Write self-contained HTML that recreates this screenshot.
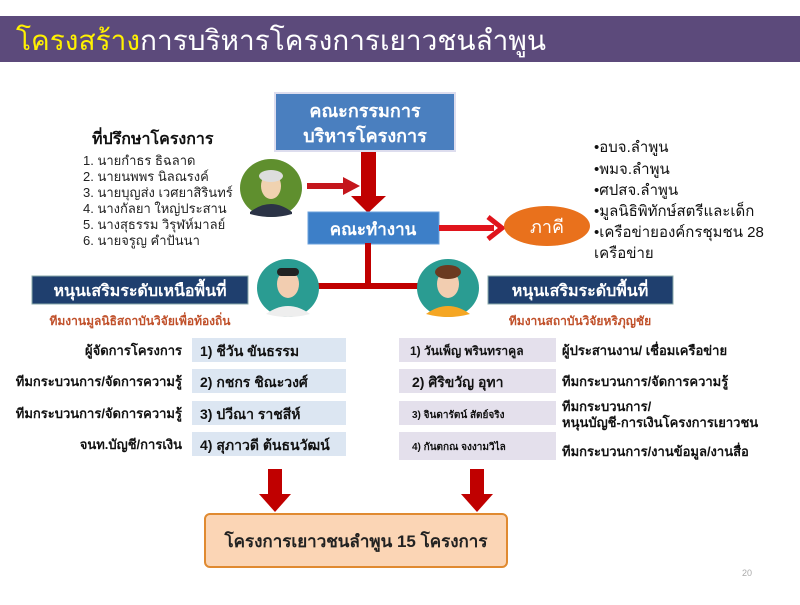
<!DOCTYPE html>
<html><head><meta charset="utf-8"><style>
body{margin:0;width:800px;height:600px;background:#fff;overflow:hidden;font-family:"Liberation Sans","DejaVu Sans",sans-serif}
</style></head><body>
<svg width="800" height="600" xmlns="http://www.w3.org/2000/svg" font-family="Liberation Sans, DejaVu Sans, sans-serif">
<rect x="0" y="16" width="800" height="46" fill="#5c4a7b"/>
<text x="16" y="50" font-size="28" fill="#fff"><tspan fill="#fff200">โครงสร้าง</tspan>การบริหารโครงการเยาวชนลำพูน</text>

<rect x="275" y="93" width="180" height="58" fill="#4a7fbf" stroke="#dde" stroke-width="2"/>
<text x="365" y="117" font-size="18" font-weight="bold" fill="#fff" text-anchor="middle">คณะกรรมการ</text>
<text x="365" y="142" font-size="18" font-weight="bold" fill="#fff" text-anchor="middle">บริหารโครงการ</text>

<text x="92" y="144" font-size="16" font-weight="bold" fill="#111">ที่ปรึกษาโครงการ</text>
<g font-size="13" fill="#222">
<text x="83" y="165">1. นายกำธร  ธิฉลาด</text>
<text x="83" y="181">2. นายนพพร  นิลณรงค์</text>
<text x="83" y="197">3. นายบุญส่ง  เวศยาสิรินทร์</text>
<text x="83" y="213">4. นางกัลยา  ใหญ่ประสาน</text>
<text x="83" y="229">5. นางสุธรรม  วิรุฬห์มาลย์</text>
<text x="83" y="245">6. นายจรูญ  คำปันนา</text>
</g>

<ellipse cx="271" cy="188" rx="31" ry="29" fill="#5f8f2e"/>
<path d="M250 212 Q271 196 292 212 L292 214 Q271 220 250 214Z" fill="#2b3346"/>
<ellipse cx="271" cy="186" rx="10" ry="13" fill="#f0d2b0"/>
<ellipse cx="271" cy="176" rx="12" ry="6" fill="#ddd"/>

<rect x="307" y="183" width="40" height="6" fill="#c4161c"/>
<polygon points="343,177 360,186 343,195" fill="#c4161c"/>
<rect x="361" y="152" width="15" height="46" fill="#c00000"/>
<polygon points="351,196 386,196 368,213" fill="#c00000"/>

<rect x="308" y="212" width="131" height="32" fill="#3d7fc8" stroke="#6aa0dd"/>
<text x="373" y="235" font-size="17" font-weight="bold" fill="#fff" text-anchor="middle">คณะทำงาน</text>

<rect x="439" y="225" width="55" height="6" fill="#e0141c"/>
<polyline points="488,217 502,228 488,239" fill="none" stroke="#e0141c" stroke-width="5"/>
<ellipse cx="547" cy="226" rx="43" ry="20" fill="#e9711c"/>
<text x="547" y="233" font-size="18" fill="#fff" text-anchor="middle">ภาคี</text>

<g font-size="15" fill="#111">
<text x="594" y="152">•อบจ.ลำพูน</text>
<text x="594" y="174">•พมจ.ลำพูน</text>
<text x="594" y="195">•ศปสจ.ลำพูน</text>
<text x="594" y="216">•มูลนิธิพิทักษ์สตรีและเด็ก</text>
<text x="594" y="237">•เครือข่ายองค์กรชุมชน 28</text>
<text x="594" y="258">เครือข่าย</text>
</g>

<rect x="365" y="243" width="6" height="44" fill="#c00000"/>
<rect x="316" y="283" width="106" height="6" fill="#c00000"/>

<ellipse cx="288" cy="288" rx="31" ry="29" fill="#2a9c92"/>
<path d="M266 314 Q288 298 310 314 Q288 320 266 314Z" fill="#eee"/>
<ellipse cx="288" cy="284" rx="11" ry="14" fill="#f2cdb0"/>
<rect x="277" y="268" width="22" height="8" rx="4" fill="#222"/>
<ellipse cx="448" cy="288" rx="31" ry="29" fill="#2a9c92"/>
<path d="M426 314 Q448 298 470 314 Q448 320 426 314Z" fill="#f5a623"/>
<ellipse cx="448" cy="284" rx="11" ry="14" fill="#f2cdb0"/>
<ellipse cx="448" cy="272" rx="13" ry="7" fill="#6b3a20"/>

<rect x="32" y="276" width="216" height="28" fill="#1f3f6e" stroke="#8aa" />
<text x="140" y="296" font-size="16" font-weight="bold" fill="#fff" text-anchor="middle">หนุนเสริมระดับเหนือพื้นที่</text>
<rect x="488" y="276" width="185" height="28" fill="#1f3f6e" stroke="#8aa"/>
<text x="580" y="296" font-size="16" font-weight="bold" fill="#fff" text-anchor="middle">หนุนเสริมระดับพื้นที่</text>
<text x="140" y="325" font-size="12" font-weight="bold" fill="#c0502a" text-anchor="middle">ทีมงานมูลนิธิสถาบันวิจัยเพื่อท้องถิ่น</text>
<text x="580" y="325" font-size="12" font-weight="bold" fill="#c0502a" text-anchor="middle">ทีมงานสถาบันวิจัยหริภุญชัย</text>

<g fill="#dce6f2"><rect x="192" y="338" width="154" height="24"/><rect x="192" y="369" width="154" height="24"/><rect x="192" y="401" width="154" height="24"/><rect x="192" y="432" width="154" height="24"/></g>
<g fill="#e4e0ec"><rect x="399" y="338" width="157" height="24"/><rect x="399" y="369" width="157" height="24"/><rect x="399" y="401" width="157" height="24"/><rect x="399" y="432" width="157" height="28"/></g>
<g font-size="13" fill="#111" font-weight="bold">
<text x="182" y="355" text-anchor="end">ผู้จัดการโครงการ</text>
<text x="182" y="386" text-anchor="end">ทีมกระบวนการ/จัดการความรู้</text>
<text x="182" y="418" text-anchor="end">ทีมกระบวนการ/จัดการความรู้</text>
<text x="182" y="449" text-anchor="end">จนท.บัญชี/การเงิน</text>
<text x="200" y="356" font-size="14">1) ชีวัน  ขันธรรม</text>
<text x="200" y="387" font-size="14">2) กชกร  ชิณะวงศ์</text>
<text x="200" y="419" font-size="14">3) ปวีณา  ราชสีห์</text>
<text x="200" y="450" font-size="14">4) สุภาวดี  ต้นธนวัฒน์</text>
<text x="410" y="355" font-size="12">1) วันเพ็ญ  พรินทราคูล</text>
<text x="412" y="387" font-size="14">2)  ศิริขวัญ  อุทา</text>
<text x="412" y="418" font-size="10">3)  จินดารัตน์  สัตย์จริง</text>
<text x="412" y="450" font-size="10">4)  กันตกณ  จงงามวิไล</text>
<text x="562" y="355">ผู้ประสานงาน/ เชื่อมเครือข่าย</text>
<text x="562" y="386">ทีมกระบวนการ/จัดการความรู้</text>
<text x="562" y="411">ทีมกระบวนการ/</text>
<text x="562" y="427">หนุนบัญชี-การเงินโครงการเยาวชน</text>
<text x="562" y="456">ทีมกระบวนการ/งานข้อมูล/งานสื่อ</text>
</g>

<rect x="268" y="469" width="14" height="26" fill="#c00000"/>
<polygon points="259,494 291,494 275,512" fill="#c00000"/>
<rect x="470" y="469" width="14" height="26" fill="#c00000"/>
<polygon points="461,494 493,494 477,512" fill="#c00000"/>

<rect x="205" y="514" width="302" height="53" rx="5" fill="#fbd5b5" stroke="#e08a30" stroke-width="2"/>
<text x="356" y="547" font-size="17" font-weight="bold" fill="#222" text-anchor="middle">โครงการเยาวชนลำพูน  15 โครงการ</text>
<text x="742" y="576" font-size="9" fill="#aaa">20</text>
</svg>
</body></html>
